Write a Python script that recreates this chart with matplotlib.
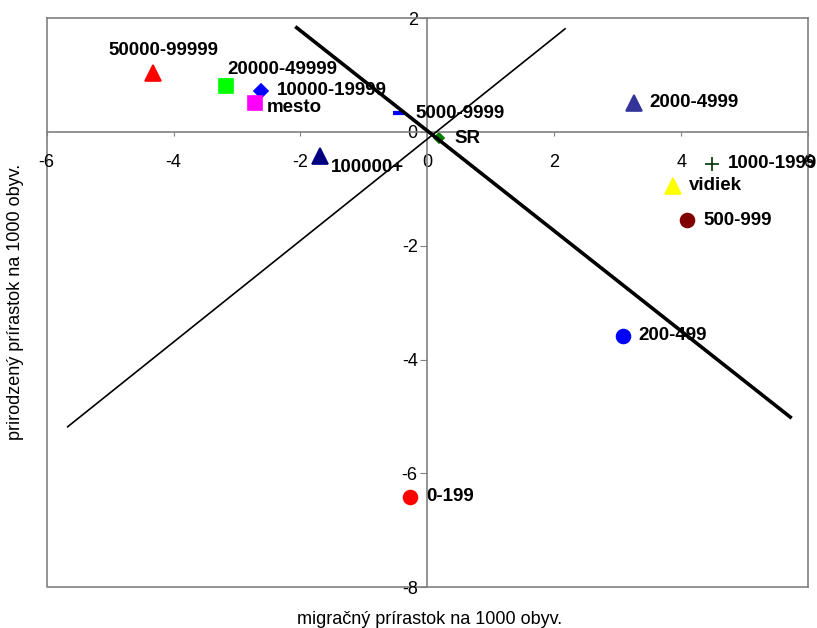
import matplotlib
matplotlib.use('Agg')
import matplotlib.pyplot as plt

plt.rcParams['font.family'] = ['Liberation Sans', 'DejaVu Sans']
plt.rcParams['axes.unicode_minus'] = False

# Data: migration increase (x) vs natural increase (y) per 1000 inhabitants
labels = ['50000-99999', '20000-49999', '10000-19999', 'mesto', '5000-9999',
          '100000+', 'SR', '2000-4999', '1000-1999', 'vidiek', '500-999',
          '200-499', '0-199']
mig = [-4.33, -3.17, -2.63, -2.72, -0.44, -1.69, 0.18, 3.25, 4.48, 3.87, 4.10, 3.08, -0.27]
nat = [1.04, 0.81, 0.72, 0.51, 0.33, -0.42, -0.11, 0.51, -0.56, -0.95, -1.55, -3.58, -6.41]

# two reference lines
thick_x = [-2.06, 5.72]
thick_y = [1.83, -5.01]
thin_x = [-5.67, 2.17]
thin_y = [-5.18, 1.81]

# marker styles per point
markers = ['^', 's', 'D', 's', '_', '^', 'D', '^', '+', '^', 'o', 'o', 'o']
colors = ['#FF0000', '#00FF00', '#0000FF', '#FF00FF', '#0000FF', '#000080', '#008000',
          '#333399', '#003300', '#FFFF00', '#800000', '#0000FF', '#FF0000']
sizes = [11, 9.5, 7.5, 9.5, 9, 11, 5.6, 11, 10.5, 11, 10, 10, 10]

# label offsets in points (dx, dy, ha)
offsets = {'50000-99999': (8, 16, 'center'),
           '20000-49999': (1, 12, 'left'),
           'mesto': (8.5, -3.5, 'left'),
           '100000+': (8, -8.5, 'left')}

fig = plt.figure(figsize=(8.17, 6.28), dpi=100)
ax = fig.add_axes([0.0572, 0.0648, 0.9318, 0.9065])

ax.set_xlim(-6, 6)
ax.set_ylim(-8, 2)

ax.plot(thick_x, thick_y, color='black', linewidth=2.6, zorder=3)
ax.plot(thin_x, thin_y, color='black', linewidth=1.2, zorder=3)

for i, lab in enumerate(labels):
    mew = 3 if markers[i] == '_' else 1.2
    ax.plot(mig[i], nat[i], linestyle='none', marker=markers[i], color=colors[i],
            markersize=sizes[i], markeredgewidth=mew, zorder=2)
    dx, dy, ha = offsets.get(lab, (11.5, 0, 'left'))
    ax.annotate(lab, (mig[i], nat[i]), xytext=(dx, dy), textcoords='offset points',
                ha=ha, va='center', fontsize=13.5, fontweight='bold', zorder=4)

# axes crossing at origin, grey frame around the plot area
for side in ['left', 'bottom']:
    ax.spines[side].set_position(('data', 0))
for side in ['left', 'bottom', 'top', 'right']:
    ax.spines[side].set_color('#808080')
    ax.spines[side].set_linewidth(1.2)
ax.plot([0, 0, 1], [1, 0, 0], transform=ax.transAxes, color='#808080',
        linewidth=1.2, clip_on=False, zorder=1)

ax.set_xticks([-6, -4, -2, 0, 2, 4, 6])
ax.set_yticks([-8, -6, -4, -2, 0, 2])
ax.tick_params(axis='x', direction='out', length=3, pad=13, labelsize=13, color='#808080')
ax.tick_params(axis='y', direction='out', length=5, pad=2, labelsize=13, color='#808080')

fig.text(0.526, 0.0143, 'migračný prírastok na 1000 obyv.', ha='center', va='center', fontsize=13)
fig.text(0.019, 0.52, 'prirodzený prírastok na 1000 obyv.', ha='center', va='center',
         rotation=90, fontsize=13)

fig.savefig('out.png', dpi=100)
